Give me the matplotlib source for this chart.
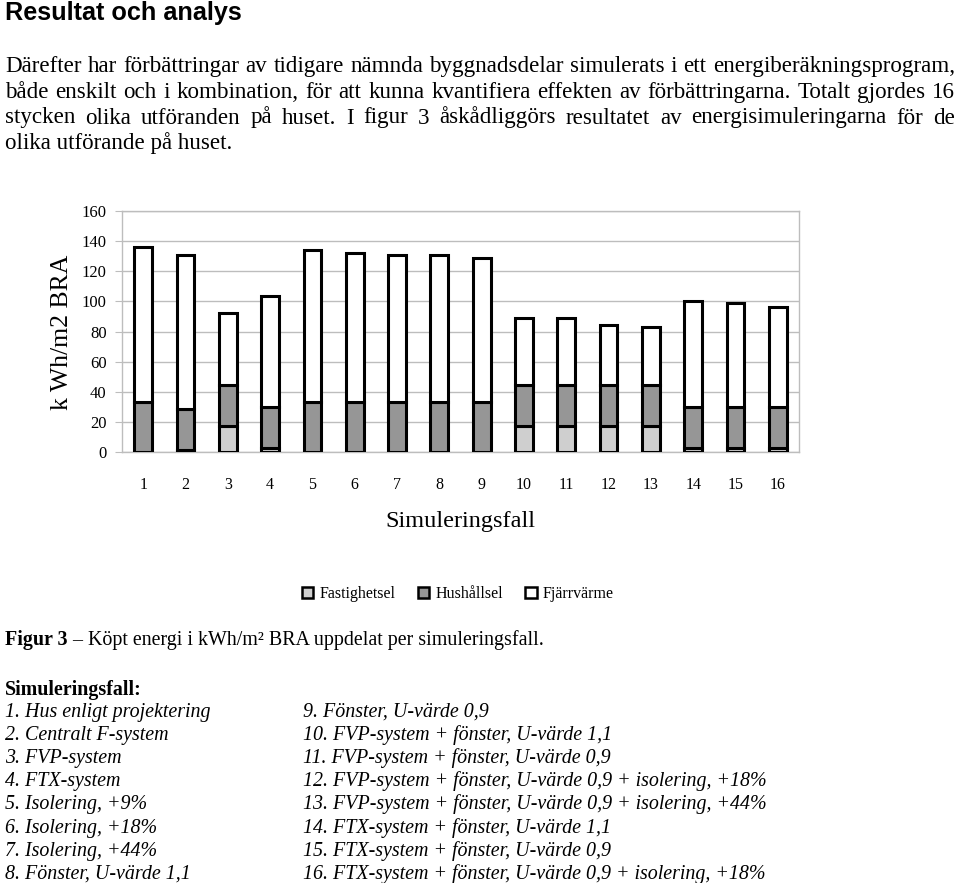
import matplotlib
matplotlib.use("Agg")
import matplotlib.pyplot as plt
import numpy as np
from matplotlib.patches import Patch

# ---------------- data ----------------
cases = [str(i) for i in range(1, 17)]
fastighetsel = [0, 1, 17, 2.5, 0, 0, 0, 0, 0, 17, 17, 17, 17, 2.5, 2.5, 2.5]
hushallsel   = [33, 27.5, 27.5, 27.5, 33, 33, 33, 33, 33, 27.5, 27.5, 27.5, 27.5, 27.5, 27.5, 27.5]
totals       = [136, 131, 92, 103.5, 134, 132, 131, 131, 129, 89, 89, 84, 83, 100, 99, 96]
fjarrvarme   = [t - f - h for t, f, h in zip(totals, fastighetsel, hushallsel)]
yticks = [0, 20, 40, 60, 80, 100, 120, 140, 160]

title = "Resultat och analys"
para = [
    "Därefter har förbättringar av tidigare nämnda byggnadsdelar simulerats i ett energiberäkningsprogram,",
    "både enskilt och i kombination, för att kunna kvantifiera effekten av förbättringarna. Totalt gjordes 16",
    "stycken olika utföranden på huset. I figur 3 åskådliggörs resultatet av energisimuleringarna för de",
    "olika utförande på huset.",
]
col1 = ["1. Hus enligt projektering", "2. Centralt F-system", "3. FVP-system", "4. FTX-system",
        "5. Isolering, +9%", "6. Isolering, +18%", "7. Isolering, +44%", "8. Fönster, U-värde 1,1"]
col2 = ["9. Fönster, U-värde 0,9", "10. FVP-system + fönster, U-värde 1,1",
        "11. FVP-system + fönster, U-värde 0,9",
        "12. FVP-system + fönster, U-värde 0,9 + isolering, +18%",
        "13. FVP-system + fönster, U-värde 0,9 + isolering, +44%",
        "14. FTX-system + fönster, U-värde 1,1", "15. FTX-system + fönster, U-värde 0,9",
        "16. FTX-system + fönster, U-värde 0,9 + isolering, +18%"]

# ---------------- figure ----------------
W, H = 960, 883
fig = plt.figure(figsize=(W / 100, H / 100), dpi=100)
SERIF = ["Liberation Serif", "DejaVu Serif"]
SANS = ["Liberation Sans", "DejaVu Sans"]

def fy(py):
    return 1 - py / H

def fx(px):
    return px / W

fig.text(fx(5), fy(20), title, family=SANS, weight="bold", fontsize=18.2, va="baseline", ha="left")

renderer = fig.canvas.get_renderer()
body_fs = 16.6
def justify(line, x0, x1, ybase, fs):
    words = line.split(" ")
    objs, widths = [], []
    for w in words:
        t = fig.text(0, 0, w, family=SERIF, fontsize=fs, va="baseline", ha="left")
        objs.append(t)
        widths.append(t.get_window_extent(renderer).width)
    gap = (x1 - x0 - sum(widths)) / max(len(words) - 1, 1)
    x = x0
    for t, w in zip(objs, widths):
        t.set_position((fx(x), fy(ybase)))
        x += w + gap

para_base = [72, 98, 123.5, 149]
for i, (line, yb) in enumerate(zip(para, para_base)):
    if i < len(para) - 1:
        justify(line, 5, 955, yb, body_fs)
    else:
        fig.text(fx(5), fy(yb), line, family=SERIF, fontsize=body_fs, va="baseline", ha="left")

# ---------------- chart ----------------
ax_l, ax_r, ax_t, ax_b = 122, 799, 211, 452
ax = fig.add_axes([fx(ax_l), fy(ax_b), (ax_r - ax_l) / W, (ax_b - ax_t) / H])
x = np.arange(len(cases))
bw = 0.42
lw = 2.2
ax.bar(x, fastighetsel, bw, color="#cfcfcf", edgecolor="black", linewidth=lw, zorder=3)
ax.bar(x, hushallsel, bw, bottom=fastighetsel, color="#969696", edgecolor="black", linewidth=lw, zorder=3)
bot2 = [f + h for f, h in zip(fastighetsel, hushallsel)]
ax.bar(x, fjarrvarme, bw, bottom=bot2, color="white", edgecolor="black", linewidth=lw, zorder=3)

ax.set_xlim(-0.5, len(cases) - 0.5)
ax.set_ylim(0, 160)
ax.set_yticks(yticks)
ax.set_yticklabels([str(v) for v in yticks], family=SERIF, fontsize=12)
ax.set_xticks(x)
ax.set_xticklabels(cases, family=SERIF, fontsize=11.5)
ax.yaxis.grid(True, color="#bdbdbd", linewidth=1.0, zorder=0)
ax.set_axisbelow(True)
for s in ax.spines.values():
    s.set_color("#bdbdbd")
    s.set_linewidth(1.0)
ax.tick_params(axis="y", length=5, color="#bdbdbd", pad=6)
ax.tick_params(axis="x", length=0, pad=18)

fig.text(fx(62), fy(332), "k Wh/m2 BRA", family=SERIF, fontsize=18.5, rotation=90,
         ha="center", va="center")
fig.text(fx(460), fy(527), "Simuleringsfall", family=SERIF, fontsize=17.5, ha="center", va="baseline")

handles = [Patch(facecolor="#cfcfcf", edgecolor="black", linewidth=1.8, label="Fastighetsel"),
           Patch(facecolor="#969696", edgecolor="black", linewidth=1.8, label="Hushållsel"),
           Patch(facecolor="white", edgecolor="black", linewidth=1.8, label="Fjärrvärme")]
fig.legend(handles=handles, loc="center", bbox_to_anchor=(fx(458), fy(594)), ncol=3, frameon=False,
           prop={"family": SERIF, "size": 11.5}, handlelength=0.7, handleheight=0.7,
           handletextpad=0.4, columnspacing=1.4)

# ---------------- caption and list ----------------
cap_fs = 14.4
t1 = fig.text(fx(5), fy(645), "Figur 3", family=SERIF, weight="bold", fontsize=cap_fs, va="baseline", ha="left")
w1 = t1.get_window_extent(renderer).width
fig.text(fx(5 + w1), fy(645), " – Köpt energi i kWh/m² BRA uppdelat per simuleringsfall.",
         family=SERIF, fontsize=cap_fs, va="baseline", ha="left")

fig.text(fx(5), fy(695), "Simuleringsfall:", family=SERIF, weight="bold", fontsize=cap_fs, va="baseline", ha="left")
list_base = [717, 740, 763, 786, 809.5, 833, 856, 879]
for a, b, yb in zip(col1, col2, list_base):
    fig.text(fx(5), fy(yb), a, family=SERIF, style="italic", fontsize=cap_fs, va="baseline", ha="left")
    fig.text(fx(303), fy(yb), b, family=SERIF, style="italic", fontsize=cap_fs, va="baseline", ha="left")

fig.savefig("out.png", dpi=100)
